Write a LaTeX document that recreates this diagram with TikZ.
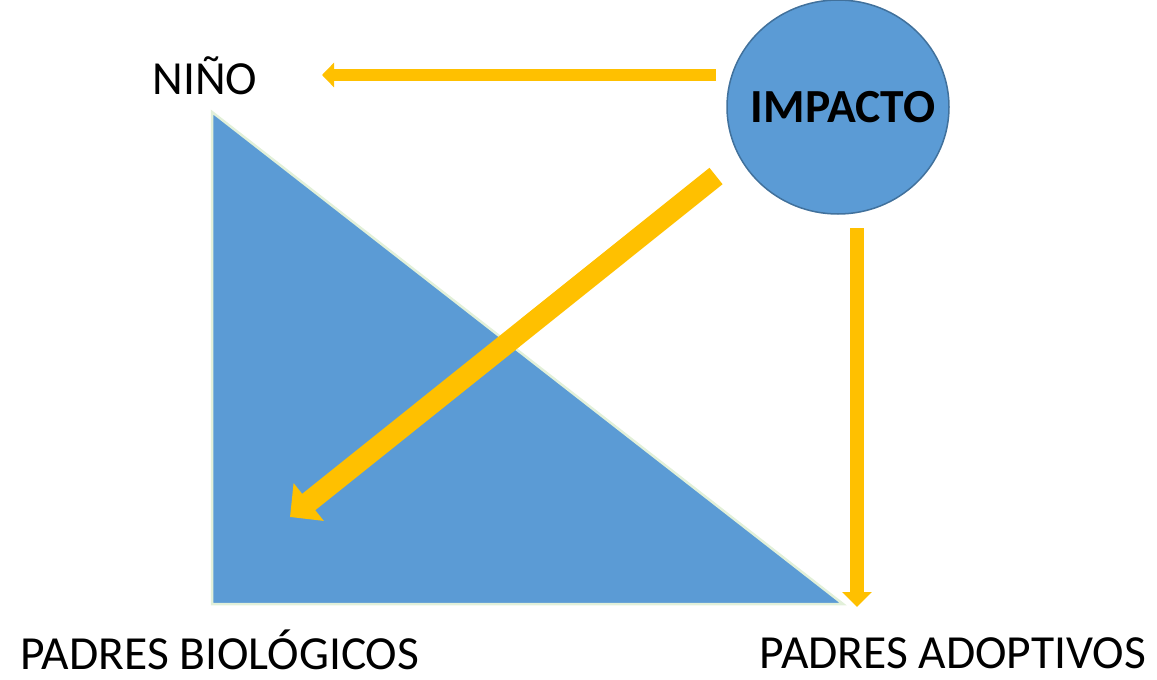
\documentclass[tikz,border=0pt]{standalone}
\usepackage{fontspec}
\setmainfont{Carlito}
\usepackage{tikz}
\usetikzlibrary{positioning,shapes,arrows.meta,backgrounds,calc}
\definecolor{fillblue}{HTML}{5B9BD5}
\definecolor{edgeblue}{HTML}{41719C}
\definecolor{paleedge}{HTML}{E2F0D9}
\definecolor{gold}{HTML}{FFC000}
\tikzstyle{tag} = [font=\fontsize{47.5}{54}\selectfont, inner sep=0pt]
\tikzstyle{bubble} = [ellipse, draw=edgeblue, line width=1.5pt, fill=fillblue, %
   minimum width=222pt, minimum height=214pt, inner sep=0pt]
\tikzstyle{line} = [draw=gold]

\begin{document}
\begin{tikzpicture}[x=1pt,y=-1pt]
         \useasboundingbox (0,0) rectangle (1157,680);
         % Place nodes
         \coordinate (top) at (212,112);
         \coordinate (left) at (212,604);
         \coordinate (right) at (843,604);
         \fill[fillblue, draw=paleedge, line width=2.5pt] (top) -- (left) -- (right) -- cycle;

         \node[bubble, label={[font=\fontsize{47.5}{54}\selectfont\bfseries, xshift=5pt]center:IMPACTO}] %
            (impacto) at (838,107) {};

         \node[tag] (nino) at (205,76) {NIÑO};
         \node[tag] (bio) at (220,650) {PADRES BIOLÓGICOS};
         \node[tag] (adop) at (953,653) {PADRES ADOPTIVOS};

         % Arrow ends
         \coordinate (ninotip) at (322,75);
         \coordinate (biotip) at (290,517);
         \coordinate (adoptip) at (857,607);

         % Draw edges
         \path [line, line width=12pt, -{Triangle[length=12pt,width=24pt]}] %
            (716,75) -- (ninotip);
         \path [line, line width=21pt, -{Triangle[length=24pt,width=47pt]}] %
            (716,176) -- (biotip);
         \path [line, line width=14pt, -{Triangle[length=15pt,width=29pt]}] %
            (857,228) -- (adoptip);

      \end{tikzpicture}
\end{document}
